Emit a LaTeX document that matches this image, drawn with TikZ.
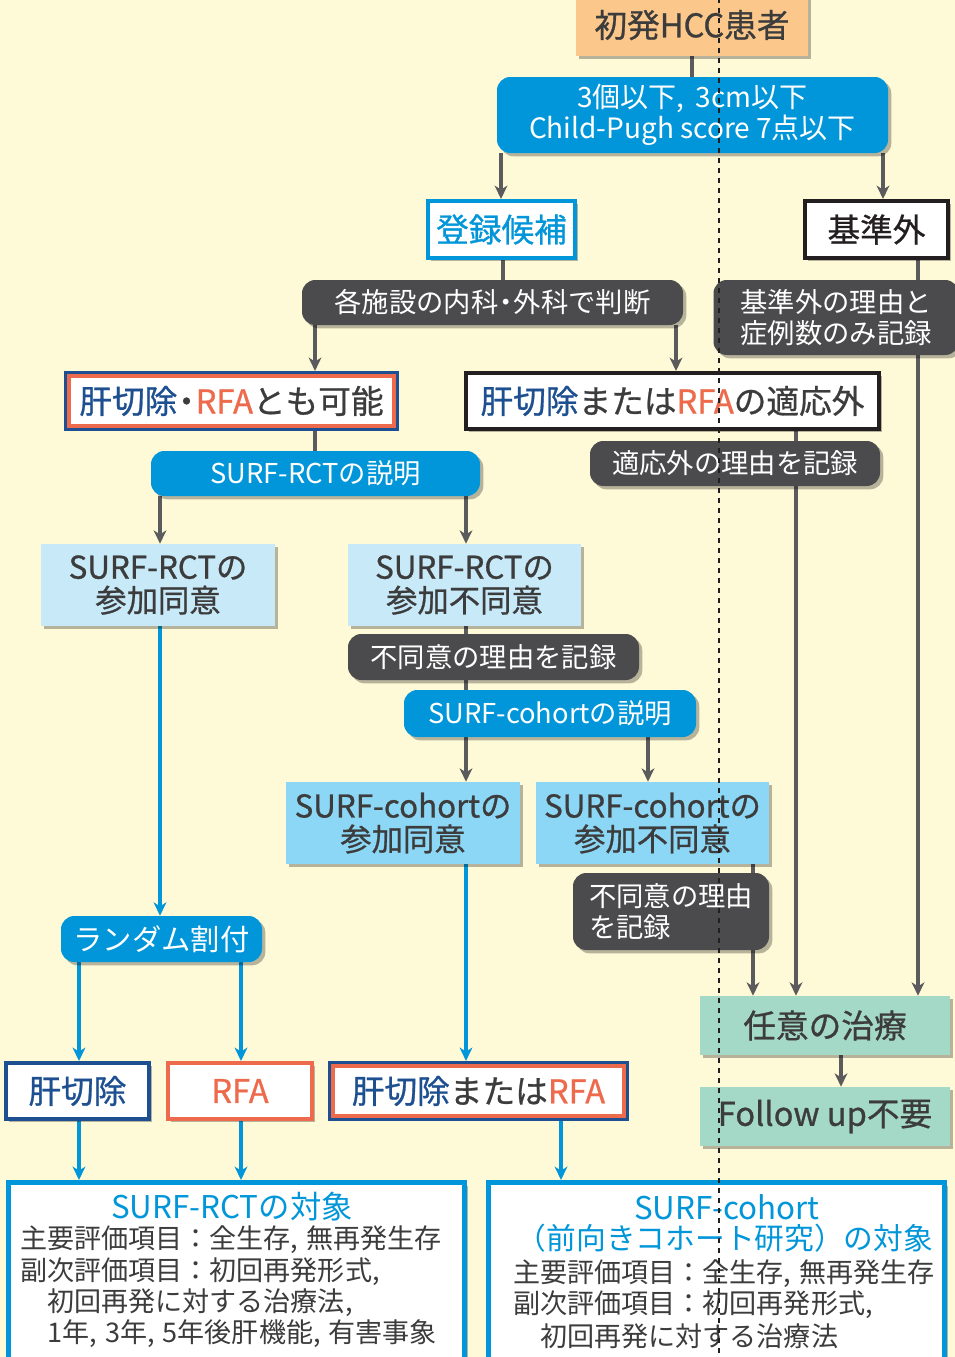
\documentclass[tikz,border=0pt]{standalone}
\usepackage{fontspec}
\setmainfont{Noto Sans CJK JP}
\newfontfamily\jpmed{Noto Sans CJK JP}[FakeBold=0.8]
\usetikzlibrary{arrows.meta,shadows}
\definecolor{bgc}{HTML}{FEF9D6}
\definecolor{lnc}{HTML}{5B5B5E}
\definecolor{blu}{HTML}{0096D9}
\definecolor{dkb}{HTML}{4B4B4D}
\definecolor{org}{HTML}{FBC78A}
\definecolor{lbl}{HTML}{C8E9F8}
\definecolor{cbl}{HTML}{8DD7F6}
\definecolor{tea}{HTML}{A4D9C8}
\definecolor{nvy}{HTML}{1D4F91}
\definecolor{ored}{HTML}{EE6A4C}
\definecolor{txt}{HTML}{3C3C3C}
\definecolor{blk}{HTML}{231F20}
\pgfdeclarelayer{back}
\pgfdeclarelayer{lines}
\pgfsetlayers{back,lines,main}
\newcommand{\pxu}{0.75pt}
\newcommand{\nakaguro}{\hspace{-0.22em}・\hspace{-0.22em}}
\newcommand{\outerframe}[1]{\draw[nvy, line width=2.6pt] ([shift={(1.3pt,-1.3pt)}]#1.north west) rectangle ([shift={(-1.3pt,1.3pt)}]#1.south east);}
\tikzset{
 shd/.style={drop shadow={shadow xshift=2.5pt,shadow yshift=-2.5pt,opacity=0.28,fill=black}},
 nbase/.style={inner sep=0pt, align=center, shd},
 bigf/.style={font=\jpmed\fontsize{24.5}{28}\selectfont},
 orgbox/.style={nbase, fill=org, text=txt, bigf},
 bluebox/.style={nbase, fill=blu, rounded corners=10pt, text=white, font=\fontsize{20.5}{23}\selectfont},
 darkbox/.style={nbase, fill=dkb, rounded corners=10pt, text=white, font=\fontsize{20.5}{23}\selectfont},
 framebox/.style={nbase, fill=white, line width=3pt, bigf},
 dualbox/.style={nbase, fill=white, draw=ored, line width=2.4pt, outer sep=3.8pt, bigf},
 palebox/.style={nbase, text=txt, font=\jpmed\fontsize{23.5}{25}\selectfont},
 tealbox/.style={nbase, fill=tea, text=txt, bigf},
 tgtbox/.style={fill=white, draw=blu, line width=3.75pt, shd},
 ttl/.style={inner sep=0pt, text=blu, font=\fontsize{23.5}{25}\selectfont},
 bodyl/.style={inner sep=0pt, anchor=west, text=txt, font=\fontsize{20.3}{23}\selectfont},
 ln/.style={draw=lnc, line width=3pt},
 arr/.style={ln, -{Stealth[length=10pt,width=9.5pt,inset=3pt]}},
 barr/.style={arr, draw=blu},
}
\begin{document}
\begin{tikzpicture}[x=0.75pt,y=-0.75pt]
\useasboundingbox (0,0) rectangle (955,1357);
\begin{pgfonlayer}{back}
\fill[bgc] (0,0) rectangle (955,1357);
\end{pgfonlayer}

% ---- nodes ----
\node[orgbox, minimum width=232*\pxu, minimum height=62*\pxu] (hcc) at (692,25) {初発HCC患者};
\node[bluebox, font=\fontsize{21}{23}\selectfont, minimum width=391*\pxu, minimum height=76*\pxu] (cond) at (692.5,115) {3個以下,\hspace{0.4em}3cm以下\\Child-Pugh score 7点以下};
\node[framebox, draw=blu, text=blu, minimum width=147*\pxu, minimum height=57*\pxu] (cand) at (501.5,229.5) {登録候補};
\node[framebox, draw=blk, text=blk, minimum width=143*\pxu, minimum height=57*\pxu] (kijun) at (876.5,229.5) {基準外};
\node[darkbox, minimum width=381*\pxu, minimum height=45*\pxu] (judge) at (492.5,302.5) {各施設の内科\nakaguro 外科で判断};
\node[darkbox, align=left, minimum width=245*\pxu, minimum height=75*\pxu] (kijunrec) at (836,317.5) {基準外の理由と\\症例数のみ記録};
\node[dualbox, minimum width=325*\pxu, minimum height=50*\pxu] (both) at (231.5,401) {\textcolor{nvy}{肝切除}\textcolor{txt}{\nakaguro}\textcolor{ored}{RFA}\textcolor{txt}{とも可能}};
\outerframe{both}
\node[framebox, draw=blk, minimum width=413*\pxu, minimum height=56*\pxu] (notind) at (672.5,401) {\textcolor{nvy}{肝切除}\textcolor{txt}{または}\textcolor{ored}{RFA}\textcolor{txt}{の適応外}};
\node[bluebox, minimum width=329*\pxu, minimum height=45*\pxu] (rctexp) at (315.5,473.5) {SURF-RCTの説明};
\node[darkbox, minimum width=290*\pxu, minimum height=45*\pxu] (notindrec) at (735,463.5) {適応外の理由を記録};
\node[palebox, fill=lbl, minimum width=234*\pxu, minimum height=82*\pxu] (rctyes) at (158,585) {SURF-RCTの\\参加同意};
\node[palebox, fill=lbl, minimum width=233*\pxu, minimum height=82*\pxu] (rctno) at (464.5,585) {SURF-RCTの\\参加不同意};
\node[darkbox, minimum width=291*\pxu, minimum height=46*\pxu] (norec1) at (493.5,657) {不同意の理由を記録};
\node[bluebox, minimum width=292*\pxu, minimum height=47*\pxu] (cohexp) at (550,713.5) {SURF-cohortの説明};
\node[palebox, fill=cbl, minimum width=234*\pxu, minimum height=82*\pxu] (cohyes) at (403,823) {SURF-cohortの\\参加同意};
\node[palebox, fill=cbl, minimum width=233*\pxu, minimum height=82*\pxu] (cohno) at (652.5,823) {SURF-cohortの\\参加不同意};
\node[darkbox, align=left, minimum width=196*\pxu, minimum height=77*\pxu] (norec2) at (671,911.5) {不同意の理由\\を記録};
\node[tealbox, minimum width=250*\pxu, minimum height=59*\pxu] (nini) at (825,1025.5) {任意の治療};
\node[tealbox, minimum width=250*\pxu, minimum height=59*\pxu] (follow) at (825,1116.5) {Follow up不要};
\node[bluebox, font=\fontsize{22}{24}\selectfont, minimum width=201*\pxu, minimum height=46*\pxu] (random) at (161.5,939) {ランダム割付};
\node[framebox, draw=nvy, text=nvy, minimum width=143*\pxu, minimum height=56*\pxu] (hep) at (77.5,1091) {肝切除};
\node[framebox, draw=ored, text=ored, minimum width=144*\pxu, minimum height=56*\pxu] (rfa) at (240,1091) {RFA};
\node[dualbox, minimum width=291*\pxu, minimum height=50*\pxu] (hepor) at (478.5,1091) {\textcolor{nvy}{肝切除}\textcolor{txt}{または}\textcolor{ored}{RFA}};
\outerframe{hepor}
\node[tgtbox, minimum width=456*\pxu, minimum height=177*\pxu] (rcttgt) at (236.5,1271) {};
\node[tgtbox, minimum width=456*\pxu, minimum height=177*\pxu] (cohtgt) at (716.5,1271) {};

\node[ttl] (rctttl) at (232,1207) {SURF-RCTの対象};
\node[bodyl] (r1) at (20,1240) {主要評価項目：全生存,\hspace{0.3em}無再発生存};
\node[bodyl] (r2) at (20,1272) {副次評価項目：初回再発形式,};
\node[bodyl] (r3) at (20,1303) {\hspace*{1em}初回再発に対する治療法,};
\node[bodyl] (r4) at (20,1334) {\hspace*{1em}1年,\hspace{0.3em}3年,\hspace{0.3em}5年後肝機能,\hspace{0.3em}有害事象};

\node[ttl] (cohttl1) at (727,1207) {SURF-cohort};
\node[ttl, font=\fontsize{22.3}{25}\selectfont] (cohttl2) at (725,1238) {（前向きコホート研究）の対象};
\node[bodyl] (c1) at (513,1274) {主要評価項目：全生存,\hspace{0.3em}無再発生存};
\node[bodyl] (c2) at (513,1305) {副次評価項目：初回再発形式,};
\node[bodyl] (c3) at (513,1336) {\hspace*{1em}初回再発に対する治療法};

% ---- guides ----
\coordinate (gA) at (692,0);
\coordinate (gB) at (501,0);
\coordinate (gC) at (883,0);
\coordinate (gD) at (503,0);
\coordinate (gE) at (315,0);
\coordinate (gF) at (676,0);
\coordinate (gG) at (918,0);
\coordinate (gH) at (796,0);
\coordinate (gI) at (160,0);
\coordinate (gJ) at (466,0);
\coordinate (gK) at (648,0);
\coordinate (gL) at (753,0);
\coordinate (gM) at (841,0);
\coordinate (gN) at (79,0);
\coordinate (gO) at (241,0);
\coordinate (gP) at (561,0);

% ---- connectors ----
\begin{pgfonlayer}{lines}
\draw[ln] (hcc.south -| gA) -- (cond.north -| gA);
\draw[arr] (cond.south -| gB) -- (cand.north -| gB);
\draw[arr] (cond.south -| gC) -- (kijun.north -| gC);
\draw[ln] (cand.south -| gD) -- (judge.north -| gD);
\draw[arr] (judge.south -| gE) -- (both.north -| gE);
\draw[arr] (judge.south -| gF) -- (notind.north -| gF);
\draw[arr] (kijun.south -| gG) -- (kijunrec.north -| gG) -- (nini.north -| gG);
\draw[arr] (notind.south -| gH) -- (notindrec.north -| gH) -- (nini.north -| gH);
\draw[ln] (both.south -| gE) -- (rctexp.north -| gE);
\draw[arr] (rctexp.south -| gI) -- (rctyes.north -| gI);
\draw[arr] (rctexp.south -| gJ) -- (rctno.north -| gJ);
\draw[arr] (rctno.south -| gJ) -- (norec1.north -| gJ) -- (cohexp.north -| gJ) -- (cohyes.north -| gJ);
\draw[arr] (cohexp.south -| gK) -- (cohno.north -| gK);
\draw[arr] (cohno.south -| gL) -- (norec2.north -| gL) -- (nini.north -| gL);
\draw[arr] (nini.south -| gM) -- (follow.north -| gM);
\draw[barr] (rctyes.south -| gI) -- (random.north -| gI);
\draw[barr] (random.south -| gN) -- (hep.north -| gN);
\draw[barr] (random.south -| gO) -- (rfa.north -| gO);
\draw[barr] (cohyes.south -| gJ) -- (hepor.north -| gJ);
\draw[barr] (hep.south -| gN) -- (rcttgt.north -| gN);
\draw[barr] (rfa.south -| gO) -- (rcttgt.north -| gO);
\draw[barr] (hepor.south -| gP) -- (cohtgt.north -| gP);
\end{pgfonlayer}

% ---- divider ----
\draw[blk, line width=1pt, dash pattern=on 4pt off 3.5pt] (719,-2) -- (719,1360);
\end{tikzpicture}
\end{document}
